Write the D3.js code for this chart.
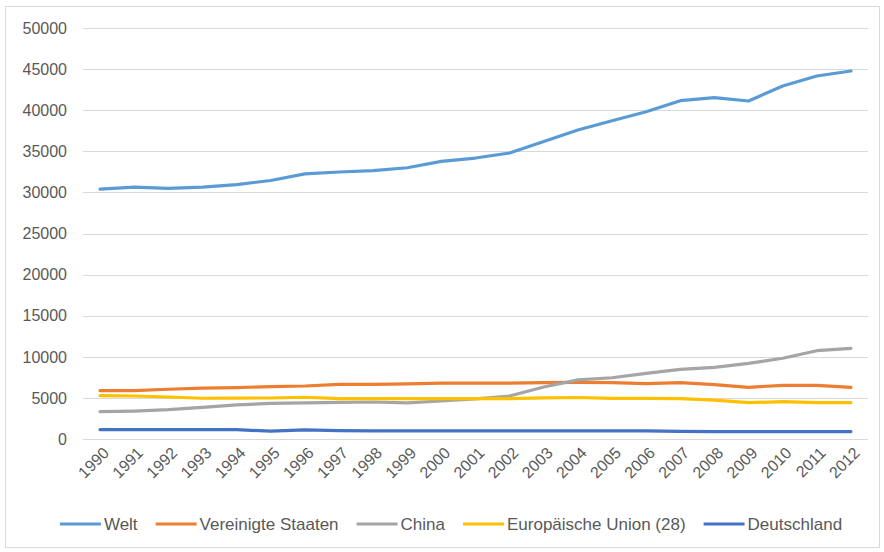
<!DOCTYPE html>
<html>
<head>
<meta charset="utf-8">
<script src="https://cdn.jsdelivr.net/npm/d3@7"></script>
<style>
  body { margin: 0; background: #fff; }
  svg { display: block; font-family: "Liberation Sans", Arial, sans-serif; }
</style>
</head>
<body>
<svg id="view"></svg>
<script>
// CO2-Emissionen 1990-2012 (Mio. t)
var years = d3.range(1990, 2013);

var welt = [30400, 30650, 30500, 30650, 30950, 31450, 32250, 32480, 32640, 33000, 33780, 34180,
            34790, 36200, 37590, 38720, 39820, 41160, 41520, 41120, 42940, 44160, 44770];
var usa = [5880, 5880, 6050, 6200, 6250, 6380, 6450, 6650, 6650, 6700, 6800, 6800,
           6800, 6850, 6880, 6870, 6730, 6850, 6620, 6290, 6530, 6530, 6290];
var china = [3320, 3400, 3570, 3850, 4140, 4340, 4400, 4460, 4500, 4400, 4620, 4870,
             5230, 6330, 7200, 7450, 7990, 8480, 8720, 9210, 9820, 10740, 11030];
var eu = [5270, 5230, 5110, 4960, 4980, 4990, 5080, 4900, 4900, 4900, 4900, 4900,
          4900, 5000, 5050, 4950, 4950, 4920, 4740, 4420, 4540, 4420, 4420];
var de = [1130, 1130, 1130, 1130, 1130, 950, 1100, 1010, 1000, 1000, 1000, 1000,
          1000, 1000, 1000, 1000, 1000, 920, 900, 900, 900, 900, 900];

var seriesNames = ["Welt", "Vereinigte Staaten", "China", "Europäische Union (28)", "Deutschland"];
var seriesColors = ["#5b9bd5", "#ed7d31", "#a5a5a5", "#ffc000", "#4472c4"];
var seriesValues = [welt, usa, china, eu, de];
var yTicks = d3.range(0, 50001, 5000);

var width = 884, height = 552;
var svg = d3.select("#view").attr("width", width).attr("height", height);

// chart border
svg.append("rect")
  .attr("x", 5.5).attr("y", 6.5)
  .attr("width", 874).attr("height", 541)
  .attr("fill", "#fff").attr("stroke", "#d9d9d9");

var plot = { left: 83, right: 868, top: 28, bottom: 439 };

var x = d3.scaleBand().domain(years).range([plot.left, plot.right]);
var y = d3.scaleLinear().domain([0, 50000]).range([plot.bottom, plot.top]);

// gridlines
svg.append("g").selectAll("line")
  .data(yTicks)
  .join("line")
  .attr("x1", plot.left).attr("x2", plot.right)
  .attr("y1", d => Math.round(y(d)) + 0.5).attr("y2", d => Math.round(y(d)) + 0.5)
  .attr("stroke", "#d9d9d9").attr("stroke-width", 1);

// y labels
svg.append("g").selectAll("text")
  .data(yTicks)
  .join("text")
  .attr("x", 67).attr("y", d => y(d))
  .attr("dy", "0.36em")
  .attr("text-anchor", "end")
  .attr("font-size", 16)
  .attr("fill", "#595959")
  .text(d => d);

// x labels, rotated
svg.append("g").selectAll("text")
  .data(years)
  .join("text")
  .attr("transform", d => "translate(" + (x(d) + x.bandwidth() / 2 + 6) + "," + 450 + ") rotate(-45)")
  .attr("dy", "0.35em")
  .attr("text-anchor", "end")
  .attr("font-size", 16)
  .attr("fill", "#595959")
  .text(d => d);

var line = d3.line()
  .x((d, i) => x(years[i]) + x.bandwidth() / 2)
  .y(d => y(d));

svg.append("g").selectAll("path")
  .data(seriesValues)
  .join("path")
  .attr("d", d => line(d))
  .attr("fill", "none")
  .attr("stroke", (d, i) => seriesColors[i])
  .attr("stroke-width", 3.2)
  .attr("stroke-linejoin", "round")
  .attr("stroke-linecap", "round");

// legend, centered
var legend = svg.append("g");
var items = legend.selectAll("g")
  .data(seriesNames)
  .join("g");
items.append("line")
  .attr("x1", 0).attr("x2", 41).attr("y1", 524).attr("y2", 524)
  .attr("stroke", (d, i) => seriesColors[i])
  .attr("stroke-width", 3.2);
items.append("text")
  .attr("x", 44).attr("y", 524).attr("dy", "0.36em")
  .attr("font-size", 17)
  .attr("fill", "#595959")
  .text(d => d);

var pos = 0;
items.each(function () {
  var g = d3.select(this);
  var w = 44 + g.select("text").node().getComputedTextLength();
  g.attr("transform", "translate(" + pos + ",0)");
  pos += w + 18;
});
pos -= 18;
legend.attr("transform", "translate(" + ((width - pos) / 2 + 9) + ",0)");
</script>
</body>
</html>
